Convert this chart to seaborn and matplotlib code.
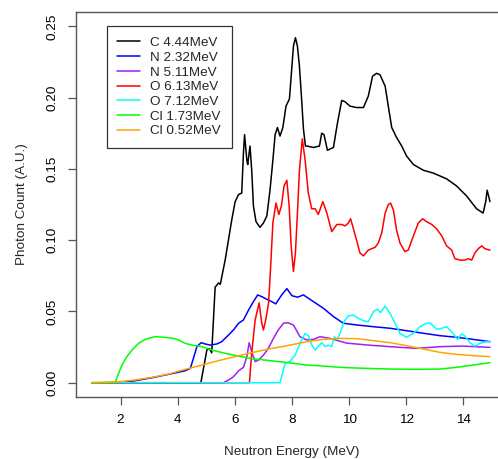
import matplotlib
matplotlib.use("Agg")
import matplotlib.pyplot as plt
import seaborn as sns
import pandas as pd

# Values (neutron energy in MeV, photon count in A.U.)
c444_x = [1.0, 4.81, 5.02, 5.11, 5.19, 5.31, 5.43, 5.49, 5.66, 5.89, 6.01, 6.13, 6.24, 6.30,
          6.34, 6.42, 6.45, 6.53, 6.59, 6.65, 6.74, 6.88, 7.00, 7.12, 7.23, 7.33, 7.41, 7.49,
          7.58, 7.68, 7.79, 7.91, 7.99, 8.05, 8.12, 8.19, 8.26, 8.33, 8.40, 8.47, 8.52, 8.75,
          8.96, 9.04, 9.12, 9.24, 9.45, 9.59, 9.74, 9.86, 10.03, 10.26, 10.50, 10.67, 10.82,
          10.96, 11.08, 11.26, 11.37, 11.49, 11.66, 11.84, 12.01, 12.25, 12.60, 12.95, 13.41,
          13.76, 14.11, 14.46, 14.69, 14.78, 14.83, 14.93]
c444_y = [0, 0, 0.023, 0.024, 0.021, 0.067, 0.070, 0.069, 0.086, 0.114, 0.127, 0.132, 0.133,
          0.161, 0.174, 0.156, 0.153, 0.166, 0.149, 0.124, 0.113, 0.109, 0.112, 0.117, 0.135,
          0.156, 0.174, 0.179, 0.173, 0.179, 0.194, 0.199, 0.220, 0.236, 0.242, 0.236, 0.222,
          0.201, 0.178, 0.166, 0.166, 0.165, 0.166, 0.175, 0.174, 0.163, 0.165, 0.182, 0.198,
          0.197, 0.194, 0.193, 0.193, 0.201, 0.215, 0.217, 0.216, 0.208, 0.194, 0.179, 0.172,
          0.166, 0.159, 0.153, 0.149, 0.147, 0.143, 0.138, 0.131, 0.122, 0.119, 0.127, 0.135,
          0.127]

n232_x = [1.0, 2.0, 2.51, 3.10, 3.68, 4.26, 4.44, 4.55, 4.67, 4.82, 4.96, 5.14, 5.37, 5.54,
          5.78, 5.95, 6.13, 6.30, 6.48, 6.65, 6.80, 6.94, 7.12, 7.29, 7.43, 7.64, 7.82, 8.00,
          8.20, 8.40, 8.63, 9.10, 9.45, 9.80, 10.27, 10.85, 11.43, 12.01, 12.60, 13.18, 13.76,
          14.34, 14.93]
n232_y = [0, 0, 0.0014, 0.0035, 0.0059, 0.0084, 0.0101, 0.0171, 0.0253, 0.0281, 0.0272,
          0.0264, 0.0272, 0.0288, 0.0335, 0.0370, 0.0417, 0.0440, 0.0510, 0.0569, 0.0616,
          0.0604, 0.0585, 0.0569, 0.0553, 0.0616, 0.0660, 0.0610, 0.0600, 0.0616, 0.0585,
          0.0522, 0.0464, 0.0417, 0.0405, 0.0393, 0.0382, 0.0365, 0.0347, 0.0330, 0.0319,
          0.0304, 0.0288]

n511_x = [1.0, 5.60, 5.78, 5.95, 6.13, 6.30, 6.42, 6.50, 6.59, 6.71, 6.83, 7.00, 7.17, 7.35,
          7.52, 7.70, 7.85, 8.05, 8.28, 8.52, 8.75, 8.98, 9.33, 9.91, 10.61, 11.43, 12.36,
          13.18, 13.99, 14.93]
n511_y = [0, 0, 0.0019, 0.0042, 0.0084, 0.0108, 0.0183, 0.0281, 0.0218, 0.0148, 0.0159,
          0.0194, 0.0241, 0.0311, 0.0370, 0.0417, 0.0421, 0.0405, 0.0323, 0.0300, 0.0304,
          0.0323, 0.0311, 0.0278, 0.0265, 0.0253, 0.0241, 0.0253, 0.0257, 0.0248]

o613_x = [1.0, 6.51, 6.59, 6.71, 6.85, 6.94, 7.00, 7.08, 7.18, 7.26, 7.33, 7.44, 7.54, 7.63,
          7.72, 7.82, 7.90, 7.97, 8.05, 8.12, 8.19, 8.26, 8.36, 8.46, 8.57, 8.69, 8.81, 8.92,
          9.08, 9.22, 9.39, 9.57, 9.74, 9.86, 9.97, 10.05, 10.15, 10.26, 10.38, 10.50, 10.67,
          10.91, 11.02, 11.14, 11.26, 11.37, 11.45, 11.55, 11.66, 11.78, 11.95, 12.07, 12.25,
          12.42, 12.57, 12.71, 12.89, 13.06, 13.24, 13.41, 13.59, 13.70, 13.88, 14.05, 14.17,
          14.29, 14.40, 14.52, 14.64, 14.75, 14.93]
o613_y = [0, 0, 0.021, 0.044, 0.056, 0.042, 0.037, 0.044, 0.056, 0.084, 0.112, 0.126, 0.118,
          0.124, 0.138, 0.142, 0.124, 0.096, 0.078, 0.091, 0.119, 0.149, 0.171, 0.156, 0.133,
          0.122, 0.122, 0.118, 0.127, 0.119, 0.106, 0.111, 0.111, 0.110, 0.112, 0.115, 0.108,
          0.100, 0.091, 0.089, 0.093, 0.095, 0.098, 0.105, 0.119, 0.125, 0.126, 0.121, 0.107,
          0.098, 0.092, 0.093, 0.103, 0.112, 0.115, 0.113, 0.111, 0.108, 0.103, 0.096, 0.093,
          0.087, 0.086, 0.086, 0.087, 0.086, 0.091, 0.094, 0.096, 0.094, 0.093]

o712_x = [1.0, 7.58, 7.76, 7.93, 8.11, 8.28, 8.46, 8.58, 8.69, 8.81, 8.92, 9.04, 9.16, 9.27,
          9.39, 9.48, 9.57, 9.68, 9.82, 9.97, 10.15, 10.32, 10.50, 10.67, 10.85, 10.99, 11.10,
          11.26, 11.43, 11.61, 11.78, 12.01, 12.25, 12.48, 12.65, 12.83, 13.06, 13.24, 13.41,
          13.64, 13.79, 13.94, 14.05, 14.23, 14.40, 14.58, 14.75, 14.93]
o712_y = [0, 0, 0.0136, 0.0150, 0.0194, 0.0276, 0.0346, 0.0328, 0.0265, 0.0229, 0.0253,
          0.0281, 0.0253, 0.0264, 0.0253, 0.0323, 0.0304, 0.0346, 0.0428, 0.0468, 0.0475,
          0.0452, 0.0435, 0.0428, 0.0499, 0.0515, 0.0492, 0.0538, 0.0487, 0.0417, 0.0346,
          0.0319, 0.0346, 0.0393, 0.0412, 0.0421, 0.0375, 0.0382, 0.0393, 0.0346, 0.0304,
          0.0342, 0.0328, 0.0281, 0.0257, 0.0276, 0.0286, 0.0288]

cl173_x = [1.0, 1.81, 1.93, 2.05, 2.22, 2.40, 2.63, 2.86, 3.10, 3.21, 3.56, 3.85, 4.03, 4.26,
           4.50, 4.85, 5.20, 5.66, 6.13, 6.59, 7.06, 7.76, 8.52, 9.10, 9.68, 10.27, 11.43,
           12.36, 13.18, 13.76, 14.34, 14.93]
cl173_y = [0, 0, 0.0066, 0.0124, 0.0183, 0.0229, 0.0276, 0.0304, 0.0318, 0.0323, 0.0318,
           0.0311, 0.0300, 0.0276, 0.0264, 0.0253, 0.0229, 0.0206, 0.0187, 0.0169, 0.0159,
           0.0143, 0.0124, 0.0117, 0.0108, 0.0103, 0.0096, 0.0094, 0.0096, 0.0108, 0.0124,
           0.0141]

cl052_x = [1.0, 1.93, 2.51, 3.10, 3.68, 4.26, 4.85, 5.43, 6.01, 6.59, 7.17, 7.76, 8.52, 9.10,
           9.68, 10.27, 10.85, 11.43, 12.01, 12.60, 13.18, 13.76, 14.34, 14.93]
cl052_y = [0, 0.0007, 0.0019, 0.0038, 0.0061, 0.0094, 0.0124, 0.0155, 0.0183, 0.0211, 0.0236,
           0.0257, 0.0288, 0.0304, 0.0311, 0.0309, 0.0295, 0.0281, 0.0260, 0.0236, 0.0213,
           0.0199, 0.0190, 0.0183]

labels = ["C 4.44MeV", "N 2.32MeV", "N 5.11MeV", "O 6.13MeV",
          "O 7.12MeV", "Cl 1.73MeV", "Cl 0.52MeV"]
colors = ["#000000", "#0000FF", "#A020F0", "#FF0000", "#00FFFF", "#00FF00", "#FFA500"]
xs_all = [c444_x, n232_x, n511_x, o613_x, o712_x, cl173_x, cl052_x]
ys_all = [c444_y, n232_y, n511_y, o613_y, o712_y, cl173_y, cl052_y]

# long-form table for seaborn
frames = []
for lab, xs, ys in zip(labels, xs_all, ys_all):
    frames.append(pd.DataFrame({'energy': xs, 'count': ys, 'line': lab}))
df = pd.concat(frames, ignore_index=True)

sns.set_style("ticks")
plt.rcParams['font.family'] = ['Liberation Sans', 'DejaVu Sans']

fs = 9.7
axis_col = '#555555'

fig = plt.figure(figsize=(4.98, 4.59), dpi=100)
ax = fig.add_axes([76 / 498, 62 / 459, 432 / 498, 385 / 459])

sns.lineplot(data=df, x='energy', y='count', hue='line', hue_order=labels,
             palette=dict(zip(labels, colors)), estimator=None, sort=False,
             linewidth=1.1, ax=ax)

ax.set_xlim(0.44, 15.56)
ax.set_ylim(-0.01, 0.26)
ax.set_xticks([2, 4, 6, 8, 10, 12, 14])
ax.set_yticks([0.0, 0.05, 0.10, 0.15, 0.20, 0.25])
ax.set_yticklabels(['0.00', '0.05', '0.10', '0.15', '0.20', '0.25'],
                   rotation=90, va='center')
ax.tick_params(axis='both', length=6, width=0.9, color=axis_col, pad=6.5,
               labelsize=fs, labelcolor='black')
for sp in ax.spines.values():
    sp.set_color(axis_col)
    sp.set_linewidth(1.0)

ax.set_xlabel('Neutron Energy (MeV)', fontsize=fs)
ax.set_ylabel('Photon Count (A.U.)', fontsize=fs)
ax.xaxis.label.set_va('center')
ax.yaxis.label.set_va('center')
ax.xaxis.set_label_coords(0.5, -0.143)
ax.yaxis.set_label_coords(-0.1257, 0.5)

handles, labs = ax.get_legend_handles_labels()
keep = [(h, l) for h, l in zip(handles, labs) if l in labels]
leg = ax.legend([h for h, _ in keep], [l for _, l in keep],
                loc='upper left', bbox_to_anchor=(0.071, 0.964), borderaxespad=0,
                frameon=True, fancybox=False, edgecolor='#333333', framealpha=1,
                fontsize=fs, handlelength=1.7, handletextpad=0.75,
                labelspacing=0.17, borderpad=0.8)
leg.get_frame().set_linewidth(0.9)

fig.savefig('out.png', dpi=100)
